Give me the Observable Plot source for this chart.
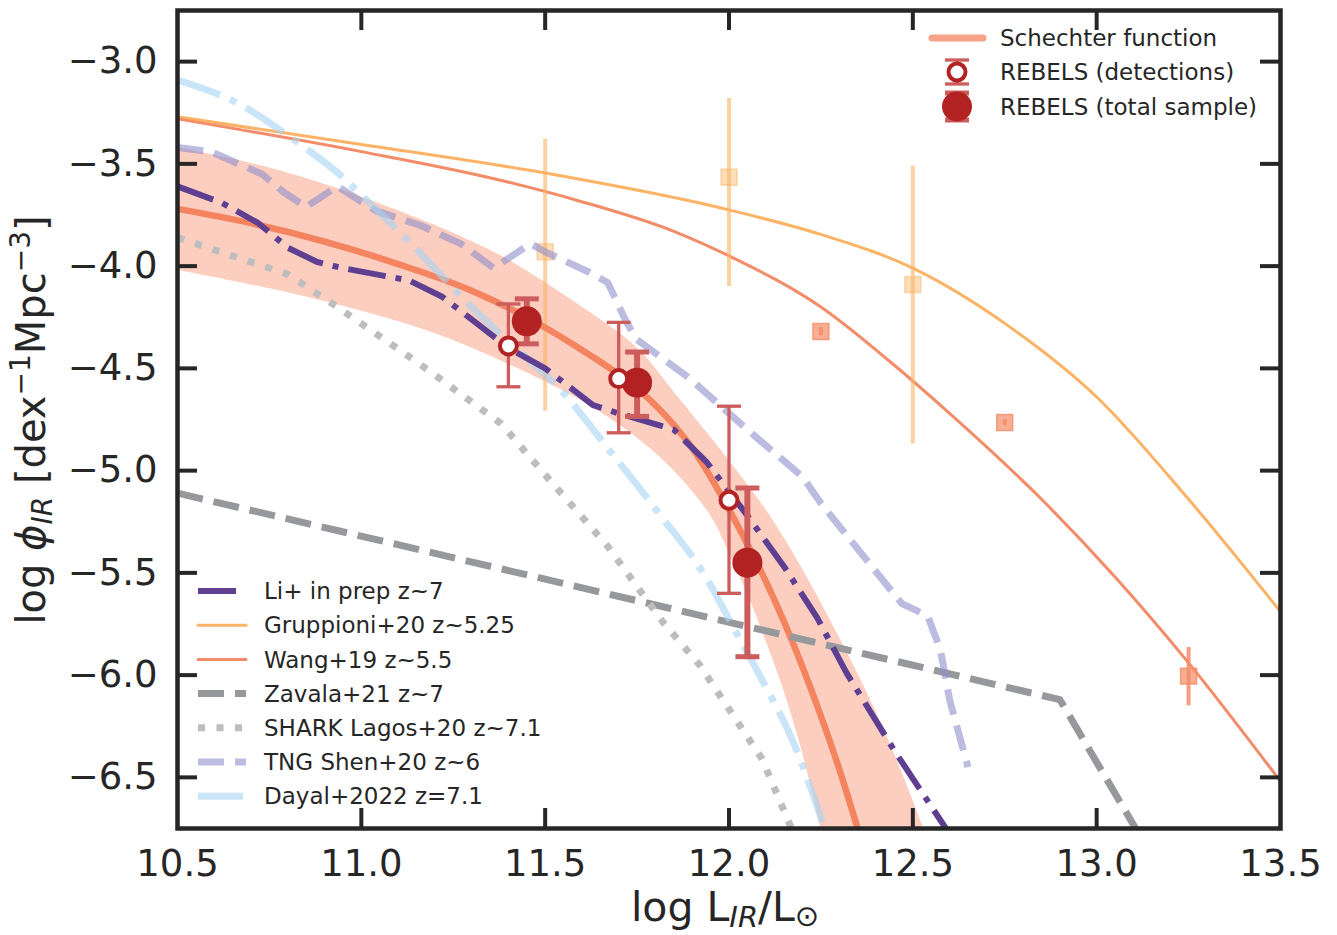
<!DOCTYPE html>
<html>
<head>
<meta charset="utf-8">
<script src="https://cdn.jsdelivr.net/npm/d3@7"></script>
<script src="https://cdn.jsdelivr.net/npm/@observablehq/plot@0.6"></script>
<style>
  html, body { margin: 0; padding: 0; background: #fff; }
  #chart { position: absolute; left: 0; top: 0; }
</style>
</head>
<body>
<div id="chart"></div>
<script>
// ---------------- data ----------------
const xTicks = [10.5, 11.0, 11.5, 12.0, 12.5, 13.0, 13.5];
const yTicks = [-3.0, -3.5, -4.0, -4.5, -5.0, -5.5, -6.0, -6.5];

// best-fit Schechter function (this work) and its uncertainty band
const schechterLine = [[10.5,-3.72],[10.7,-3.79],[10.9,-3.88],[11.1,-3.99],[11.3,-4.12],[11.45,-4.25],[11.6,-4.41],[11.7,-4.53],[11.8,-4.68],[11.9,-4.89],[12.0,-5.19],[12.05,-5.36],[12.1,-5.54],[12.15,-5.74],[12.2,-5.96],[12.25,-6.20],[12.3,-6.46],[12.35,-6.75]];
const bandUpper = [[10.5,-3.42],[10.75,-3.52],[10.95,-3.63],[11.2,-3.80],[11.3,-3.88],[11.4,-3.97],[11.6,-4.20],[11.75,-4.40],[11.87,-4.66],[12.0,-4.95],[12.1,-5.19],[12.19,-5.45],[12.33,-5.92],[12.43,-6.30],[12.53,-6.75]];
const bandLower = [[10.5,-4.02],[10.8,-4.13],[11.0,-4.22],[11.2,-4.33],[11.4,-4.48],[11.6,-4.66],[11.75,-4.84],[11.85,-5.00],[11.95,-5.22],[12.0,-5.40],[12.05,-5.60],[12.1,-5.83],[12.15,-6.08],[12.2,-6.38],[12.25,-6.75]];

// REBELS
const rebelsDetX  = [11.40, 11.70, 12.00];
const rebelsDetY  = [-4.39, -4.55, -5.145];
const rebelsDetLo = [-4.59, -4.815, -5.60];
const rebelsDetHi = [-4.185, -4.275, -4.685];
const rebelsTotX  = [11.45, 11.75, 12.05];
const rebelsTotY  = [-4.27, -4.57, -5.45];
const rebelsTotLo = [-4.38, -4.735, -5.91];
const rebelsTotHi = [-4.16, -4.42, -5.085];

// literature
const gruppioniLine = [[10.5,-3.27],[11.0,-3.405],[11.5,-3.545],[12.0,-3.725],[12.25,-3.845],[12.5,-4.01],[12.75,-4.28],[13.0,-4.64],[13.25,-5.14],[13.5,-5.69]];
const gruppioniX  = [11.5, 12.0, 12.5];
const gruppioniY  = [-3.93, -3.565, -4.09];
const gruppioniLo = [-4.71, -4.10, -4.87];
const gruppioniHi = [-3.38, -3.18, -3.51];

const wangLine = [[10.5,-3.28],[11.0,-3.44],[11.39,-3.585],[11.59,-3.68],[11.85,-3.83],[12.0,-3.95],[12.25,-4.20],[12.44,-4.47],[12.6,-4.72],[12.85,-5.14],[13.05,-5.52],[13.25,-5.94],[13.5,-6.52]];
const wangX  = [12.25, 12.75, 13.25];
const wangY  = [-4.32, -4.765, -6.005];
const wangLo = [-4.34, -4.78, -6.15];
const wangHi = [-4.30, -4.75, -5.865];

const liLine = [[10.5,-3.61],[10.62,-3.69],[10.72,-3.79],[10.80,-3.91],[10.88,-3.98],[10.95,-4.01],[11.13,-4.07],[11.22,-4.15],[11.30,-4.26],[11.40,-4.40],[11.50,-4.50],[11.58,-4.61],[11.63,-4.68],[11.70,-4.72],[11.85,-4.80],[11.94,-4.96],[12.05,-5.22],[12.15,-5.47],[12.24,-5.72],[12.32,-5.99],[12.45,-6.37],[12.59,-6.75]];
const zavalaLine = [[10.5,-5.11],[12.9,-6.12],[13.106,-6.75]];
const sharkLine = [[10.5,-3.86],[10.80,-4.04],[10.935,-4.20],[11.16,-4.48],[11.38,-4.77],[11.49,-5.00],[11.67,-5.37],[11.82,-5.74],[11.92,-5.95],[12.09,-6.41],[12.17,-6.75]];
const tngLine = [[10.5,-3.42],[10.59,-3.44],[10.73,-3.55],[10.79,-3.64],[10.85,-3.71],[10.935,-3.61],[11.04,-3.73],[11.16,-3.80],[11.27,-3.89],[11.36,-4.01],[11.46,-3.89],[11.50,-3.93],[11.62,-4.03],[11.67,-4.08],[11.72,-4.27],[11.75,-4.36],[11.89,-4.545],[12.05,-4.80],[12.20,-5.03],[12.25,-5.16],[12.38,-5.45],[12.47,-5.65],[12.54,-5.71],[12.575,-5.875],[12.60,-6.12],[12.65,-6.45]];
const dayalLine = [[10.5,-3.09],[10.66,-3.20],[10.83,-3.40],[10.94,-3.55],[11.01,-3.67],[11.13,-3.88],[11.30,-4.20],[11.45,-4.45],[11.54,-4.60],[11.67,-4.89],[11.81,-5.21],[11.94,-5.53],[12.01,-5.76],[12.08,-5.99],[12.18,-6.35],[12.26,-6.75]];

// ---------------- helpers ----------------
const C = {
  schechter: "#f4845f", gruppioni: "#fdb366", wang: "#f38c68",
  li: "#5e3f91", zavala: "#97989c", shark: "#bdbdbd", tng: "#8f90cc", dayal: "#a6d4f2",
  rebels: "#b22222", rebelsErr: "#cd5c5c", ink: "#262626"
};
const rows = (xs, ys, lo, hi) => xs.map((x, i) => ({x, y: ys[i], lo: lo[i], hi: hi[i]}));
const det = rows(rebelsDetX, rebelsDetY, rebelsDetLo, rebelsDetHi);
const tot = rows(rebelsTotX, rebelsTotY, rebelsTotLo, rebelsTotHi);
const grp = rows(gruppioniX, gruppioniY, gruppioniLo, gruppioniHi);
const wng = rows(wangX, wangY, wangLo, wangHi);
const band = bandUpper.map((u, i) => ({xu: u[0], yu: u[1], xl: bandLower[i][0], yl: bandLower[i][1]}));
const capSymbol = { draw(ctx, size) { const w = Math.sqrt(size / Math.PI); ctx.moveTo(-w, 0); ctx.lineTo(w, 0); } };
const px = d => d[0], py = d => d[1];

const W = 1337, H = 935, ML = 177, MR = 57, MT = 10, MB = 107;
const FW = W - ML - MR, FH = H - MT - MB;

const svg = Plot.plot({
  width: W, height: H,
  marginLeft: ML, marginRight: MR, marginTop: MT, marginBottom: MB,
  x: {domain: [10.5, 13.5]},
  y: {domain: [-6.75, -2.75]},
  style: {fontFamily: "'DejaVu Sans', sans-serif", color: C.ink, background: "#fff"},
  marks: [
    // uncertainty band
    Plot.area(band, {x1: "xl", y1: "yl", x2: "xu", y2: "yu", fill: C.schechter, fillOpacity: 0.4, curve: "catmull-rom", clip: true}),
    // literature Schechter fits
    Plot.line(gruppioniLine, {x: px, y: py, stroke: C.gruppioni, strokeWidth: 3, curve: "monotone-x", clip: true}),
    Plot.line(wangLine, {x: px, y: py, stroke: C.wang, strokeWidth: 3, curve: "monotone-x", clip: true}),
    // literature data
    Plot.ruleX(grp, {x: "x", y1: "lo", y2: "hi", stroke: C.gruppioni, strokeOpacity: 0.6, strokeWidth: 4}),
    Plot.dot(grp, {x: "x", y: "y", symbol: "square", r: 9, fill: C.gruppioni, fillOpacity: 0.45, stroke: C.gruppioni, strokeOpacity: 0.5, strokeWidth: 1.5}),
    Plot.ruleX(wng, {x: "x", y1: "lo", y2: "hi", stroke: C.wang, strokeOpacity: 0.85, strokeWidth: 4}),
    Plot.dot(wng, {x: "x", y: "y", symbol: "square", r: 9, fill: C.wang, fillOpacity: 0.7, stroke: C.wang, strokeOpacity: 0.8, strokeWidth: 1.5}),
    // this work
    Plot.line(schechterLine, {x: px, y: py, stroke: C.schechter, strokeWidth: 6.5, curve: "monotone-x", clip: true}),
    // models
    Plot.line(zavalaLine, {x: px, y: py, stroke: C.zavala, strokeWidth: 7, strokeDasharray: "26,11", strokeLinecap: "butt", clip: true}),
    Plot.line(sharkLine, {x: px, y: py, stroke: C.shark, strokeWidth: 7, strokeDasharray: "7,11.5", strokeLinecap: "butt", clip: true}),
    Plot.line(tngLine, {x: px, y: py, stroke: C.tng, strokeOpacity: 0.6, strokeWidth: 7, strokeDasharray: "26,11", strokeLinecap: "butt", clip: true}),
    Plot.line(dayalLine, {x: px, y: py, stroke: C.dayal, strokeOpacity: 0.6, strokeWidth: 7, strokeDasharray: "45,11,7,11", strokeLinecap: "butt", curve: "monotone-x", clip: true}),
    Plot.line(liLine, {x: px, y: py, stroke: C.li, strokeWidth: 6, strokeDasharray: "38,10,6,10", strokeLinecap: "butt", clip: true}),
    // REBELS total sample
    Plot.ruleX(tot, {x: "x", y1: "lo", y2: "hi", stroke: C.rebelsErr, strokeWidth: 6}),
    Plot.dot(tot, {x: "x", y: "lo", symbol: capSymbol, r: 12, stroke: C.rebelsErr, strokeWidth: 5}),
    Plot.dot(tot, {x: "x", y: "hi", symbol: capSymbol, r: 12, stroke: C.rebelsErr, strokeWidth: 5}),
    Plot.dot(tot, {x: "x", y: "y", r: 15, fill: C.rebels, stroke: "none"}),
    // REBELS detections
    Plot.ruleX(det, {x: "x", y1: "lo", y2: "hi", stroke: C.rebelsErr, strokeWidth: 3.3}),
    Plot.dot(det, {x: "x", y: "lo", symbol: capSymbol, r: 12, stroke: C.rebelsErr, strokeWidth: 3.3}),
    Plot.dot(det, {x: "x", y: "hi", symbol: capSymbol, r: 12, stroke: C.rebelsErr, strokeWidth: 3.3}),
    Plot.dot(det, {x: "x", y: "y", r: 8.5, fill: "#fff", stroke: C.rebels, strokeWidth: 4}),
    // axes: labels outside, ticks inside on all four sides
    Plot.axisX({ticks: xTicks, tickSize: 0, tickPadding: 21, fontSize: 37, tickFormat: d3.format(".1f"), label: null}),
    Plot.axisY({ticks: yTicks, tickSize: 0, tickPadding: 20, fontSize: 37, tickFormat: d3.format(".1f"), label: null}),
    Plot.tickX(xTicks.slice(1, -1), {x: d => d, stroke: C.ink, strokeWidth: 4, insetTop: FH - 20}),
    Plot.tickX(xTicks.slice(1, -1), {x: d => d, stroke: C.ink, strokeWidth: 4, insetBottom: FH - 20}),
    Plot.tickY(yTicks, {y: d => d, stroke: C.ink, strokeWidth: 4, insetRight: FW - 20}),
    Plot.tickY(yTicks, {y: d => d, stroke: C.ink, strokeWidth: 4, insetLeft: FW - 20}),
    Plot.frame({stroke: C.ink, strokeWidth: 4.5})
  ]
});
document.getElementById("chart").append(svg);

// ---------------- axis titles & legends ----------------
const root = d3.select(svg);
const font = "'DejaVu Sans', sans-serif";

// x label: log L_IR / L_sun
const xl = root.append("text").attr("x", 725).attr("y", 921).attr("text-anchor", "middle")
  .attr("font-family", font).attr("font-size", 41).attr("fill", C.ink);
xl.append("tspan").text("log L");
xl.append("tspan").attr("font-style", "italic").attr("font-size", 29).attr("dy", 6).text("IR");
xl.append("tspan").attr("dy", -6).text("/L");
xl.append("tspan").attr("font-size", 29).attr("dy", 5).text("\u2299");

// y label: log phi_IR [dex^-1 Mpc^-3]
const yl = root.append("text").attr("transform", "translate(45,420) rotate(-90)").attr("text-anchor", "middle")
  .attr("font-family", font).attr("font-size", 40).attr("fill", C.ink);
yl.append("tspan").text("log ");
yl.append("tspan").attr("font-style", "italic").text("\u03D5");
yl.append("tspan").attr("font-style", "italic").attr("font-size", 28).attr("dy", 7).text("IR");
yl.append("tspan").attr("dy", -7).text(" [dex");
yl.append("tspan").attr("font-size", 28).attr("dy", -15).text("\u22121");
yl.append("tspan").attr("dy", 15).text("Mpc");
yl.append("tspan").attr("font-size", 28).attr("dy", -15).text("\u22123");
yl.append("tspan").attr("dy", 15).text("]");

// top-right legend
const lg1 = root.append("g").attr("font-family", font).attr("font-size", 23).attr("fill", C.ink).attr("text-anchor", "start");
lg1.append("line").attr("x1", 932).attr("x2", 983).attr("y1", 38).attr("y2", 38)
  .attr("stroke", C.schechter).attr("stroke-opacity", 0.75).attr("stroke-width", 7).attr("stroke-linecap", "round");
[[60, 84, 3.3, 3.3]].forEach(([a, b, w, ws]) => {
  lg1.append("line").attr("x1", 957).attr("x2", 957).attr("y1", a).attr("y2", b).attr("stroke", C.rebelsErr).attr("stroke-width", ws);
  [a, b].forEach(yy => lg1.append("line").attr("x1", 945).attr("x2", 969).attr("y1", yy).attr("y2", yy).attr("stroke", C.rebelsErr).attr("stroke-width", w));
});
lg1.append("circle").attr("cx", 957).attr("cy", 72).attr("r", 8.5).attr("fill", "#fff").attr("stroke", C.rebels).attr("stroke-width", 4);
[[93, 120, 5, 6]].forEach(([a, b, w, ws]) => {
  lg1.append("line").attr("x1", 957).attr("x2", 957).attr("y1", a).attr("y2", b).attr("stroke", C.rebelsErr).attr("stroke-width", ws);
  [a, b].forEach(yy => lg1.append("line").attr("x1", 945).attr("x2", 969).attr("y1", yy).attr("y2", yy).attr("stroke", C.rebelsErr).attr("stroke-width", w));
});
lg1.append("circle").attr("cx", 957).attr("cy", 106.5).attr("r", 15).attr("fill", C.rebels);
[["Schechter function", 38], ["REBELS (detections)", 72], ["REBELS (total sample)", 107]].forEach(([t, yy]) =>
  lg1.append("text").attr("x", 1000).attr("y", yy).attr("dy", "0.36em").text(t));

// bottom-left legend
const lg2 = root.append("g").attr("font-family", font).attr("font-size", 23).attr("fill", C.ink).attr("text-anchor", "start");
const entries = [
  ["Li+ in prep z~7", C.li, 6, "38,10,6,10", 1],
  ["Gruppioni+20 z~5.25", C.gruppioni, 3, null, 1],
  ["Wang+19 z~5.5", C.wang, 3, null, 1],
  ["Zavala+21 z~7", C.zavala, 7, "26,11", 1],
  ["SHARK Lagos+20 z~7.1", C.shark, 7, "7,11.5", 1],
  ["TNG Shen+20 z~6", C.tng, 7, "26,11", 0.6],
  ["Dayal+2022 z=7.1", C.dayal, 7, "45,11,7,11", 0.6]
];
entries.forEach(([t, col, w, dash, op], i) => {
  const yy = 591 + i * 34.2;
  const ln = lg2.append("line").attr("x1", 198).attr("x2", 246).attr("y1", yy).attr("y2", yy)
    .attr("stroke", col).attr("stroke-width", w).attr("stroke-opacity", op);
  if (dash) ln.attr("stroke-dasharray", dash); else ln.attr("stroke-linecap", "round");
  lg2.append("text").attr("x", 264).attr("y", yy).attr("dy", "0.36em").text(t);
});
</script>
</body>
</html>
